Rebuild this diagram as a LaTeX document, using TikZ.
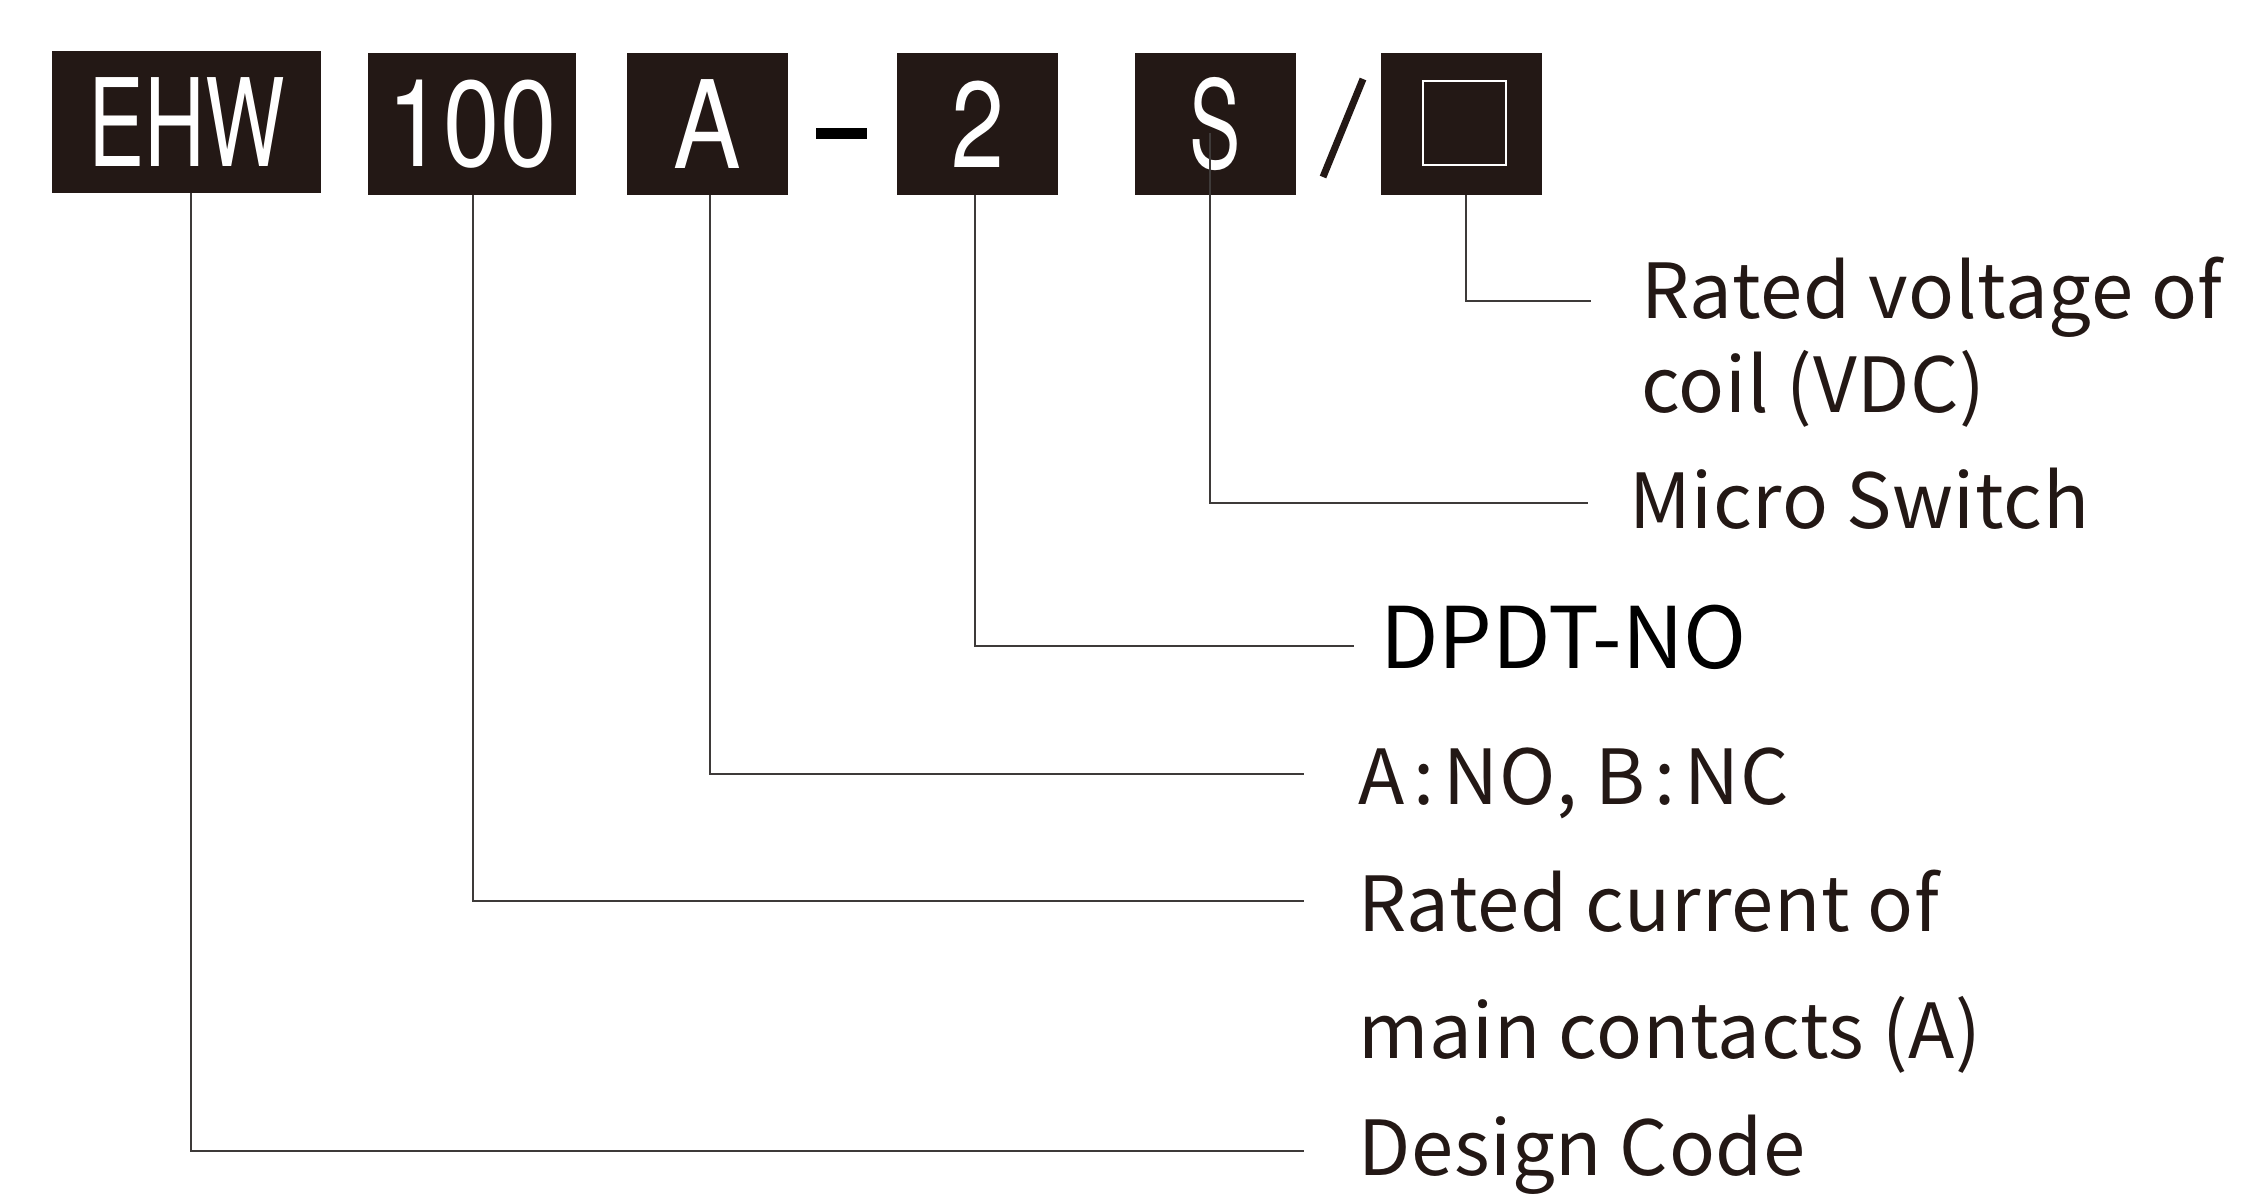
\documentclass[tikz,border=0pt]{standalone}
\usepackage{fontspec}
\newfontfamily\labfont[LetterSpace=1]{Noto Sans CJK JP}
\newfontfamily\dpfont{Noto Sans CJK JP}
\newfontfamily\boxfont{TeX Gyre Heros}
\definecolor{ink}{HTML}{231815}
\definecolor{wirecol}{HTML}{3E3A39}
\newcommand{\wcolon}{\hspace{9pt}:\hspace{9pt}}
\tikzset{
  codebox/.style={fill=ink, text=white, inner sep=0pt, minimum height=142pt,
    font=\boxfont\fontsize{122}{122}\selectfont},
  lab/.style={anchor=base west, inner sep=0pt, text=ink,
    font=\labfont\fontsize{76}{90}\selectfont},
  wire/.style={draw=wirecol, line width=2pt}
}
\begin{document}
\begin{tikzpicture}[x=1pt,y=-1pt]
\useasboundingbox (0,0) rectangle (2247,1195);
% code boxes
\node[codebox, minimum width=269pt] (ehw) at (186.5,122) {\scalebox{0.69}[1]{EHW}};
\node[codebox, minimum width=208pt] (cur) at (472,124) {\scalebox{0.83}[1]{100}};
\node[codebox, minimum width=161pt] (typ) at (707.5,124) {\scalebox{0.83}[1]{A}};
\node[codebox, minimum width=161pt] (pol) at (977.5,124) {\scalebox{0.78}[1]{2}};
\node[codebox, minimum width=161pt] (sw) at (1215.5,124) {\scalebox{0.63}[1]{S}};
\node[codebox, minimum width=161pt] (volt) at (1461.5,124) {};
\node[draw=white, line width=2pt, minimum width=83pt, minimum height=84pt, inner sep=0pt] (sq) at (1464.5,123) {};
% dash and slash
\fill[black] (816,128) rectangle (867,139);
\draw[ink, line width=7pt] (1363,79) -- (1323,177);
% labels
\node[lab] (lv1) at (1641,318) {Rated voltage of};
\node[lab] (lv2) at (1641,412) {coil (VDC)};
\node[lab] (lms) at (1629,528) {Micro Switch};
\node[lab, text=black, font=\dpfont\fontsize{85}{95}\selectfont] (ldp) at (1380,668) {DPDT-NO};
\node[lab] (lab) at (1358,804) {A\wcolon NO, B\wcolon NC};
\node[lab] (lc1) at (1358,931) {Rated current of};
\node[lab] (lc2) at (1358,1058) {main contacts (A)};
\node[lab] (ldc) at (1358,1175) {Design Code};
% line ends
\coordinate (evolt) at (1591,301);
\coordinate (esw) at (1588,503);
\coordinate (epol) at (1354,646);
\coordinate (etyp) at (1304,774);
\coordinate (ecur) at (1304,901);
\coordinate (eehw) at (1304,1151);
% connectors
\draw[wire] ([xshift=4.5pt]volt.south) |- (evolt);
\draw[wire] ([xshift=-5.5pt,yshift=-9pt]sw.center) |- (esw);
\draw[wire] ([xshift=-2.5pt]pol.south) |- (epol);
\draw[wire] ([xshift=2.5pt]typ.south) |- (etyp);
\draw[wire] ([xshift=1pt]cur.south) |- (ecur);
\draw[wire] ([xshift=4.5pt]ehw.south) |- (eehw);
\end{tikzpicture}
\end{document}
